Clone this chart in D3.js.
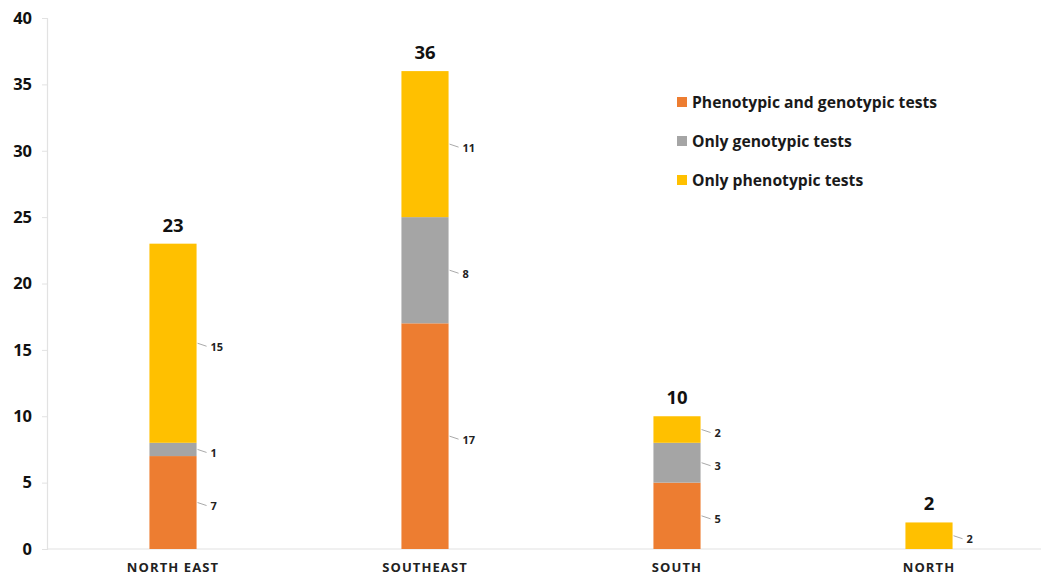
<!DOCTYPE html>
<html>
<head>
<meta charset="utf-8">
<script src="https://cdn.jsdelivr.net/npm/d3@7"></script>
<style>
  html, body { margin: 0; padding: 0; background: #fff; }
  svg { display: block; font-family: "Open Sans", Lato, sans-serif; }
</style>
</head>
<body>
<svg id="chart" width="1041" height="576"></svg>
<script>
// Regions and the number of studies per testing approach
const regions = ["NORTH EAST", "SOUTHEAST", "SOUTH", "NORTH"];
const seriesNames = ["Phenotypic and genotypic tests", "Only genotypic tests", "Only phenotypic tests"];
const bothTests = [7, 17, 5, 0];
const genotypicOnly = [1, 8, 3, 0];
const phenotypicOnly = [15, 11, 2, 2];
const seriesColors = ["#ED7D31", "#A5A5A5", "#FFC000"];
const yTicks = [0, 5, 10, 15, 20, 25, 30, 35, 40];

const svg = d3.select("#chart");
const margin = { left: 47, top: 18, bottom: 549 };

const rows = regions.map((r, i) => ({
  region: r,
  [seriesNames[0]]: bothTests[i],
  [seriesNames[1]]: genotypicOnly[i],
  [seriesNames[2]]: phenotypicOnly[i],
  total: bothTests[i] + genotypicOnly[i] + phenotypicOnly[i]
}));

const x = d3.scaleBand().domain(regions).range([margin.left, 1055]).paddingInner(0.813).paddingOuter(0.4065);
const y = d3.scaleLinear().domain([0, 40]).range([margin.bottom, margin.top]);
const color = d3.scaleOrdinal().domain(seriesNames).range(seriesColors);

const stack = d3.stack().keys(seriesNames)(rows);

// Y axis
const yAxis = svg.append("g")
  .attr("transform", `translate(${margin.left},0)`)
  .call(d3.axisLeft(y).tickValues(yTicks).tickSize(5).tickPadding(10));
yAxis.select(".domain").attr("stroke", "#e2e2e2").attr("stroke-width", 1.2);
yAxis.selectAll(".tick line").attr("stroke", "#e2e2e2");
yAxis.selectAll(".tick text")
  .attr("fill", "#111").attr("font-size", 16.5).attr("font-weight", 700)
  .attr("font-family", "'Open Sans', sans-serif");

// Baseline
svg.append("line")
  .attr("x1", margin.left).attr("x2", 1041)
  .attr("y1", y(0)).attr("y2", y(0))
  .attr("stroke", "#e2e2e2").attr("stroke-width", 1.2);

// Category labels
svg.append("g").selectAll("text").data(regions).join("text")
  .attr("x", d => x(d) + x.bandwidth() / 2)
  .attr("y", 572)
  .attr("text-anchor", "middle")
  .attr("font-size", 13).attr("font-weight", 700)
  .attr("letter-spacing", 1.1).attr("fill", "#222")
  .text(d => d);

// Stacked bars
const layers = svg.append("g").selectAll("g").data(stack).join("g")
  .attr("fill", d => color(d.key));
layers.selectAll("rect").data(d => d.filter(s => s[1] - s[0] > 0)).join("rect")
  .attr("x", d => x(d.data.region))
  .attr("width", x.bandwidth())
  .attr("y", d => y(d[1]))
  .attr("height", d => y(d[0]) - y(d[1]));

// Segment labels with leader lines
const segs = [];
stack.forEach(layer => layer.forEach(s => {
  if (s[1] - s[0] > 0) segs.push({ region: s.data.region, v: s[1] - s[0], mid: (s[0] + s[1]) / 2 });
}));
const segG = svg.append("g");
segG.selectAll("line").data(segs).join("line")
  .attr("x1", d => x(d.region) + x.bandwidth() + 1)
  .attr("x2", d => x(d.region) + x.bandwidth() + 10)
  .attr("y1", d => y(d.mid))
  .attr("y2", d => y(d.mid) + 3)
  .attr("stroke", "#aaa").attr("stroke-width", 1);
segG.selectAll("text").data(segs).join("text")
  .attr("x", d => x(d.region) + x.bandwidth() + 14)
  .attr("y", d => y(d.mid) + 7.5)
  .attr("font-size", 11).attr("font-weight", 700).attr("fill", "#222")
  .text(d => d.v);

// Totals above bars
svg.append("g").selectAll("text").data(rows).join("text")
  .attr("x", d => x(d.region) + x.bandwidth() / 2)
  .attr("y", d => y(d.total) - 12)
  .attr("text-anchor", "middle")
  .attr("font-size", 18.5).attr("font-weight", 700).attr("fill", "#111")
  .text(d => d.total);

// Legend
const legend = svg.append("g").attr("transform", "translate(677,97)");
const item = legend.selectAll("g").data(seriesNames).join("g")
  .attr("transform", (d, i) => `translate(0,${i * 39})`);
item.append("rect").attr("width", 10).attr("height", 10).attr("fill", d => color(d));
item.append("text").attr("x", 15).attr("y", 10.5)
  .attr("font-size", 15.7).attr("font-weight", 700).attr("fill", "#1a1a1a")
  .text(d => d);
</script>
</body>
</html>
